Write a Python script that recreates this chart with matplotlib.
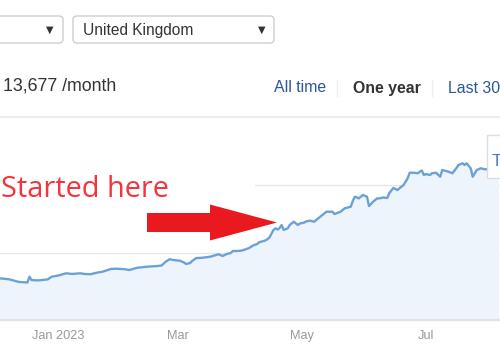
import matplotlib
matplotlib.use("Agg")
import matplotlib.pyplot as plt
from matplotlib.patches import FancyBboxPatch, Rectangle, FancyArrow
import numpy as np

# daily organic traffic
dates = [
    "2022-12-03", "2022-12-06", "2022-12-08", "2022-12-11", "2022-12-13", "2022-12-16",
    "2022-12-17", "2022-12-18", "2022-12-19", "2022-12-21", "2022-12-23", "2022-12-27",
    "2022-12-29", "2022-12-31", "2023-01-02", "2023-01-05", "2023-01-08", "2023-01-12",
    "2023-01-14", "2023-01-17", "2023-01-20", "2023-01-23", "2023-01-27", "2023-01-30",
    "2023-02-03", "2023-02-05", "2023-02-09", "2023-02-14", "2023-02-19", "2023-02-21",
    "2023-02-23", "2023-02-25", "2023-02-27", "2023-03-02", "2023-03-04", "2023-03-05",
    "2023-03-07", "2023-03-08", "2023-03-10", "2023-03-13", "2023-03-17", "2023-03-19",
    "2023-03-21", "2023-03-23", "2023-03-25", "2023-03-27", "2023-03-28", "2023-03-30",
    "2023-04-01", "2023-04-03", "2023-04-05", "2023-04-07", "2023-04-09", "2023-04-10",
    "2023-04-13", "2023-04-14", "2023-04-15", "2023-04-17", "2023-04-18", "2023-04-19",
    "2023-04-20", "2023-04-21", "2023-04-22", "2023-04-24", "2023-04-25", "2023-04-27",
    "2023-04-29", "2023-04-30", "2023-05-02", "2023-05-03", "2023-05-05", "2023-05-07",
    "2023-05-10", "2023-05-12", "2023-05-13", "2023-05-16", "2023-05-17", "2023-05-20",
    "2023-05-22", "2023-05-25", "2023-05-26", "2023-05-27", "2023-05-29", "2023-05-31",
    "2023-06-02", "2023-06-03", "2023-06-05", "2023-06-07", "2023-06-08", "2023-06-10",
    "2023-06-12", "2023-06-13", "2023-06-15", "2023-06-17", "2023-06-18", "2023-06-20",
    "2023-06-22", "2023-06-23", "2023-06-25", "2023-06-27", "2023-06-28", "2023-06-29",
    "2023-06-30", "2023-07-01", "2023-07-03", "2023-07-04", "2023-07-06", "2023-07-08",
    "2023-07-09", "2023-07-12", "2023-07-14", "2023-07-16", "2023-07-17", "2023-07-19",
    "2023-07-20", "2023-07-21", "2023-07-23", "2023-07-24", "2023-07-26", "2023-07-28",
    "2023-07-30", "2023-08-01", "2023-08-03", "2023-08-06",
]
traffic = [
    3090, 3050, 3015, 2890, 2815, 2790,
    2780, 3210, 2960, 2940, 2940, 3010,
    3210, 3260, 3330, 3460, 3410, 3460,
    3410, 3390, 3500, 3580, 3780, 3800,
    3760, 3700, 3870, 3950, 4000, 4040,
    4320, 4500, 4440, 4390, 4260, 4150,
    4220, 4370, 4590, 4610, 4690, 4780,
    4870, 4740, 4890, 4960, 5110, 5110,
    5130, 5220, 5330, 5520, 5630, 5760,
    5890, 5980, 6110, 6670, 6790, 6700,
    6810, 7040, 6670, 6790, 7040, 7280,
    7040, 7150, 7210, 7300, 7360, 7280,
    7650, 7890, 8020, 8020, 7850, 8020,
    8270, 8390, 8810, 9130, 9010, 9260,
    9130, 8440, 8760, 9010, 9010, 9070,
    9040, 9410, 9780, 9630, 9760, 10000,
    10500, 10910, 10910, 10870, 10990, 11070,
    10740, 10810, 10740, 10870, 10910, 10610,
    11110, 10990, 10870, 11260, 11480, 11610,
    11480, 11610, 11240, 10610, 11110, 11240,
    11160, 11200, 11150, 11200,
]
tick_dates = ["2023-01-01", "2023-03-01", "2023-05-01", "2023-07-01"]
tick_labels = ["Jan 2023", "Mar", "May", "Jul"]

x = np.array(dates, dtype="datetime64[D]")
y = np.array(traffic)

plt.rcParams['font.family'] = ['Liberation Sans', 'DejaVu Sans']

fig = plt.figure(figsize=(5, 3.5), dpi=100)

# chart area
ax = fig.add_axes([0, 30 / 350, 1, 202.5 / 350])
ax.fill_between(x, y, 0, color="#eef4fb", lw=0, zorder=1)
ax.plot(x, y, color="#6aa2d8", lw=1.7, zorder=3, solid_joinstyle="round")
ax.set_xlim(np.datetime64("2022-12-03T12:00"), np.datetime64("2023-08-06T10:00"))
ax.set_ylim(0, 15000)
ax.set_yticks([5000, 10000])
ax.yaxis.grid(True, color="#e6e6e6", lw=1)
ax.set_axisbelow(True)
ax.tick_params(axis="y", length=0, labelleft=False)
ax.set_xticks(np.array(tick_dates, dtype="datetime64[D]"))
ax.set_xticklabels(tick_labels)
ax.tick_params(axis="x", direction="in", length=5, width=1, color="#dddddd",
               labelcolor="#999999", labelsize=9.2, pad=7)
for s in ["top", "left", "right"]:
    ax.spines[s].set_visible(False)
ax.spines["bottom"].set_color("#e2e2e2")
ax.spines["bottom"].set_linewidth(1.6)
ax.patch.set_alpha(0)

# overlay for page widgets and annotation (pixel coordinates)
ov = fig.add_axes([0, 0, 1, 1])
ov.set_xlim(0, 500)
ov.set_ylim(350, 0)
ov.axis("off")
ov.patch.set_alpha(0)

for bx, bw in [(-12, 75), (73, 201)]:
    ov.add_patch(FancyBboxPatch((bx, 16), bw, 27, boxstyle="round,pad=0,rounding_size=4",
                                fc="white", ec="#cfcfcf", lw=1))
ov.text(50, 30, "▼", fontsize=7, color="#333333", ha="center", va="center", family="DejaVu Sans")
ov.text(262, 30, "▼", fontsize=7, color="#333333", ha="center", va="center", family="DejaVu Sans")
ov.text(83, 30.5, "United Kingdom", fontsize=11.2, color="#333333", va="center")

ov.text(3, 86, "13,677 /month", fontsize=12.8, color="#333333", va="center")
ov.text(274, 88, "All time", fontsize=11.4, color="#2b5797", va="center")
ov.text(353, 88, "One year", fontsize=11.4, color="#333333", va="center", fontweight="bold")
ov.text(448, 88, "Last 30 days", fontsize=11.4, color="#2b5797", va="center")
for sx in [337, 432]:
    ov.plot([sx, sx], [80, 96], color="#eeeeee", lw=1)
ov.plot([0, 500], [117, 117], color="#ececec", lw=1.6)

# annotation
ov.add_patch(Rectangle((0, 165), 255, 40, fc="white", ec="none"))
ov.text(1, 197, "Started here", fontsize=20.8, color="#f5333c", family="Open Sans",
        va="baseline", ha="left")
ov.add_patch(FancyArrow(147, 222.5, 130, 0, width=19, head_width=36, head_length=67,
                        length_includes_head=True, color="#e8191f", lw=0))

# tooltip edge
ov.add_patch(Rectangle((487, 135), 30, 43, fc="white", ec="#dddddd", lw=1))
ov.text(492, 162, "T", fontsize=12, color="#3c78c3", va="center")

fig.savefig("out.png", dpi=100)
